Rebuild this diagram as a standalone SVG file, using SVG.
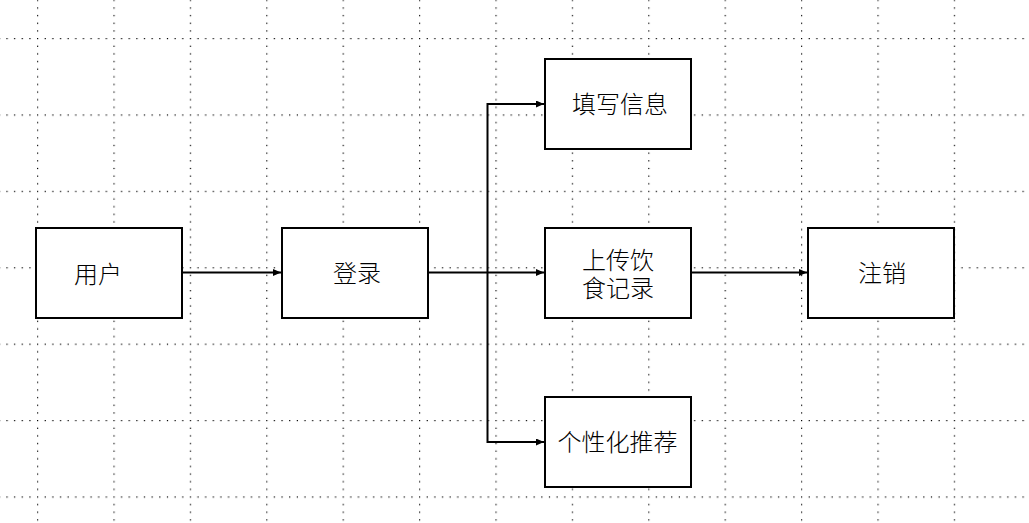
<svg xmlns="http://www.w3.org/2000/svg" width="1029" height="523" viewBox="0 0 1029 523">
<style>
.box{fill:#fff;stroke:#000;stroke-width:2}
.lbl{font-family:"Noto Sans CJK SC","Noto Sans",sans-serif;font-size:24px;font-weight:300;fill:#000;text-anchor:middle}
.edge{fill:none;stroke:#000;stroke-width:2}
</style>
<defs>
<pattern id="grid" patternUnits="userSpaceOnUse" x="37" y="38" width="76.4" height="76.4">
<g fill="#000">
<rect x="0" y="0" width="1.2" height="1.2"/><rect x="7.64" y="0" width="1.2" height="1.2"/><rect x="15.28" y="0" width="1.2" height="1.2"/><rect x="22.92" y="0" width="1.2" height="1.2"/><rect x="30.56" y="0" width="1.2" height="1.2"/><rect x="38.2" y="0" width="1.2" height="1.2"/><rect x="45.84" y="0" width="1.2" height="1.2"/><rect x="53.48" y="0" width="1.2" height="1.2"/><rect x="61.12" y="0" width="1.2" height="1.2"/><rect x="68.76" y="0" width="1.2" height="1.2"/>
<rect x="0" y="7.64" width="1.2" height="1.2"/><rect x="0" y="15.28" width="1.2" height="1.2"/><rect x="0" y="22.92" width="1.2" height="1.2"/><rect x="0" y="30.56" width="1.2" height="1.2"/><rect x="0" y="38.2" width="1.2" height="1.2"/><rect x="0" y="45.84" width="1.2" height="1.2"/><rect x="0" y="53.48" width="1.2" height="1.2"/><rect x="0" y="61.12" width="1.2" height="1.2"/><rect x="0" y="68.76" width="1.2" height="1.2"/>
</g>
</pattern>
<marker id="arr" markerUnits="userSpaceOnUse" markerWidth="10" markerHeight="8" refX="8" refY="3.5" orient="auto">
<path d="M0,0 L8,3.5 L0,7 Z" fill="#000"/>
</marker>
</defs>
<rect width="1029" height="523" fill="#fff"/>
<rect width="1029" height="523" fill="url(#grid)"/>
<g id="connectors">
<path class="edge" d="M182,272.5 H281" marker-end="url(#arr)"/>
<path class="edge" d="M428,272.5 H544" marker-end="url(#arr)"/>
<path class="edge" d="M487.5,272.5 V104 H544" marker-end="url(#arr)"/>
<path class="edge" d="M487.5,272.5 V442 H544" marker-end="url(#arr)"/>
<path class="edge" d="M691,272.5 H807" marker-end="url(#arr)"/>
</g>
<g id="node-user"><rect class="box" x="36" y="228" width="146" height="90"/><text class="lbl" x="98" y="282.5">用户</text></g>
<g id="node-login"><rect class="box" x="282" y="228" width="146" height="90"/><text class="lbl" x="357" y="282">登录</text></g>
<g id="node-fill"><rect class="box" x="545" y="59" width="146" height="90"/><text class="lbl" x="620" y="113">填写信息</text></g>
<g id="node-upload"><rect class="box" x="545" y="228" width="146" height="90"/><text class="lbl" x="618" y="269">上传饮</text><text class="lbl" x="618" y="297">食记录</text></g>
<g id="node-recommend"><rect class="box" x="545" y="397" width="146" height="90"/><text class="lbl" x="617.5" y="451">个性化推荐</text></g>
<g id="node-logout"><rect class="box" x="808" y="228" width="146" height="90"/><text class="lbl" x="882" y="282">注销</text></g>
</svg>
